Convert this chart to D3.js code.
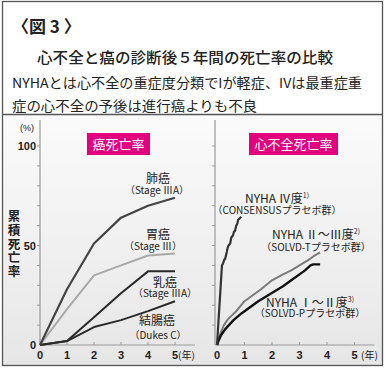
<!DOCTYPE html>
<meta charset="utf-8">
<script src="https://d3js.org/d3.v7.min.js"></script>
<style>
  body { margin: 0; background: #fff; }
  text { font-family: "Liberation Sans", "Noto Sans CJK JP", sans-serif; fill: #222; }
  .jp { font-family: "Noto Sans CJK JP", sans-serif; }
</style>
<div id="chart"></div>
<script>

// cancer: cumulative mortality (%) by year after diagnosis
const cancerYears = [0, 1, 2, 3, 4, 5];
const lungCancer = [0, 28, 51, 64, 70, 74];
const stomachCancer = [0, 18, 35, 40, 45, 46];
const breastCancer = [0, 2, 14, 26, 37, 37];
const colonCancer = [0, 2, 9, 12.5, 17, 22];

// heart failure (placebo groups)
const nyha4Years = [0, 0.18, 0.22, 0.27, 0.3, 0.36, 0.38, 0.42, 0.48, 0.52, 0.58, 0.62, 0.66, 0.7, 0.74, 0.77, 0.82, 0.88];
const nyha4 = [0, 40, 41, 43, 43.5, 47, 48.5, 50, 51, 54, 55, 57, 57.5, 60, 61, 63, 63.5, 64.5];
const nyha23Years = [0, 0.1, 0.25, 0.4, 0.7, 1.0, 1.3, 1.6, 2.0, 2.4, 2.7, 3.0, 3.3, 3.5, 3.75];
const nyha23 = [0, 5, 10, 13, 17, 22, 25, 28, 32.5, 35.5, 37.5, 40, 42.5, 44.5, 46.5];
const nyha12Years = [0, 0.05, 0.15, 0.3, 0.6, 0.9, 1.2, 1.5, 1.8, 2.1, 2.4, 2.7, 3.0, 3.2, 3.4, 3.5, 3.75];
const nyha12 = [0, 2, 5, 8, 12.5, 16, 19, 22, 24.5, 27, 29.5, 32.5, 35.5, 37.5, 40, 40.5, 40.5];

const xTicks = [0, 1, 2, 3, 4, 5];
const yTickLabels = [0, 50, 100];

const W = 385, H = 369;
const svg = d3.select("#chart").append("svg")
    .attr("width", W).attr("height", H);

var defs = svg.append("defs");
var grad = defs.append("linearGradient").attr("id", "bg")
    .attr("x1", 0).attr("y1", 0).attr("x2", 0).attr("y2", 1);
grad.append("stop").attr("offset", "0%").attr("stop-color", "#fbfbfb");
grad.append("stop").attr("offset", "100%").attr("stop-color", "#e6e6e6");

// chart panel background + frame
svg.append("rect").attr("x", 3).attr("y", 114).attr("width", 379).attr("height", 251)
    .attr("fill", "url(#bg)");
svg.append("rect").attr("x", 2.5).attr("y", 1.5).attr("width", 380).attr("height", 364)
    .attr("fill", "none").attr("stroke", "#555").attr("stroke-width", 1.3);
svg.append("line").attr("x1", 3).attr("x2", 382).attr("y1", 114.5).attr("y2", 114.5)
    .attr("stroke", "#555").attr("stroke-width", 1.3);

// titles
svg.append("text").attr("class", "jp").attr("x", 12).attr("y", 33)
    .attr("font-size", 17).attr("font-weight", "bold").text("〈図 3 〉");
svg.append("text").attr("class", "jp").attr("x", 37).attr("y", 63)
    .attr("font-size", 15).attr("font-weight", 500)
    .attr("textLength", 296).attr("lengthAdjust", "spacingAndGlyphs")
    .text("心不全と癌の診断後５年間の死亡率の比較");
svg.append("text").attr("class", "jp").attr("x", 12).attr("y", 88)
    .attr("font-size", 13.5)
    .attr("textLength", 350).attr("lengthAdjust", "spacingAndGlyphs")
    .text("NYHAとは心不全の重症度分類でIが軽症、IVは最重症重");
svg.append("text").attr("class", "jp").attr("x", 12).attr("y", 111)
    .attr("font-size", 13.5)
    .attr("textLength", 245).attr("lengthAdjust", "spacingAndGlyphs")
    .text("症の心不全の予後は進行癌よりも不良");

// scales
var y = d3.scaleLinear().domain([0, 100]).range([345, 146]);
var xL = d3.scaleLinear().domain([0, 5]).range([40, 175]);
var xR = d3.scaleLinear().domain([0, 5]).range([217, 354.5]);

function drawAxes(x, x0) {
  var g = svg.append("g");
  g.append("line").attr("x1", x0).attr("x2", x0).attr("y1", 120).attr("y2", 345)
      .attr("stroke", "#999").attr("stroke-width", 1.2);
  g.append("line").attr("x1", x0).attr("x2", x(5) + 20).attr("y1", 345).attr("y2", 345)
      .attr("stroke", "#999").attr("stroke-width", 1.2);
  g.selectAll(".yt").data(d3.range(10, 101, 10)).enter().append("line")
      .attr("x1", x0 - 3).attr("x2", x0).attr("y1", d => y(d)).attr("y2", d => y(d))
      .attr("stroke", "#999");
  g.selectAll(".xt").data(xTicks.slice(1)).enter().append("line")
      .attr("x1", d => x(d)).attr("x2", d => x(d)).attr("y1", 345).attr("y2", 342)
      .attr("stroke", "#999");
  g.selectAll(".xl").data(xTicks).enter().append("text")
      .attr("x", d => x(d)).attr("y", 359).attr("text-anchor", "middle")
      .attr("font-size", 11).attr("font-weight", "bold").attr("fill", "#333")
      .text(d => d);
}
drawAxes(xL, 40);
drawAxes(xR, 215);

svg.append("text").attr("class", "jp").attr("x", 178).attr("y", 359)
    .attr("font-size", 10).attr("fill", "#333").text("(年)");
svg.append("text").attr("class", "jp").attr("x", 361).attr("y", 359)
    .attr("font-size", 10).attr("fill", "#333").text("(年)");

// y labels
svg.selectAll(".yl").data(yTickLabels).enter().append("text")
    .attr("x", 36).attr("y", d => y(d) + 4).attr("text-anchor", "end")
    .attr("font-size", 11).attr("font-weight", "bold").attr("fill", "#333")
    .text(d => d);
svg.append("text").attr("x", 27).attr("y", 131).attr("text-anchor", "middle")
    .attr("font-size", 9).attr("fill", "#555").text("(%)");
var yTitle = "累積死亡率".split("");
svg.selectAll(".ytitle").data(yTitle).enter().append("text").attr("class", "jp")
    .attr("x", 14).attr("y", (d, i) => 221 + i * 13.8).attr("text-anchor", "middle")
    .attr("font-size", 12.5).attr("font-weight", "bold").text(d => d);

// pink headers
function header(x, w, label) {
  svg.append("rect").attr("x", x).attr("y", 133).attr("width", w).attr("height", 22)
      .attr("fill", "#e2007e");
  svg.append("text").attr("class", "jp").attr("x", x + w / 2).attr("y", 149)
      .attr("text-anchor", "middle").attr("font-size", 13).attr("fill", "#fff")
      .style("fill", "#fff").text(label);
}
header(87, 63, "癌死亡率");
header(249, 89, "心不全死亡率");

// lines
function drawLine(x, years, vals, color, width) {
  var pts = years.map((d, i) => [d, vals[i]]);
  svg.append("path").datum(pts)
      .attr("fill", "none").attr("stroke", color).attr("stroke-width", width)
      .attr("stroke-linejoin", "round")
      .attr("d", d3.line().x(d => x(d[0])).y(d => y(d[1])));
}
drawLine(xL, cancerYears, stomachCancer, "#a9a9a9", 2);
drawLine(xL, cancerYears, colonCancer, "#2a2a2a", 2);
drawLine(xL, cancerYears, breastCancer, "#2a2a2a", 2);
drawLine(xL, cancerYears, lungCancer, "#444", 2.2);

drawLine(xR, nyha23Years, nyha23, "#7a7a7a", 2);
drawLine(xR, nyha12Years, nyha12, "#111", 2.4);
drawLine(xR, nyha4Years, nyha4, "#333", 2.2);

// annotations
function label(x, yy, t, size) {
  return svg.append("text").attr("class", "jp").attr("x", x).attr("y", yy)
      .attr("text-anchor", "middle").attr("font-size", size).attr("fill", "#333").text(t);
}
label(158, 183, "肺癌", 12);
label(157, 194, "（Stage ⅢA）", 10);
label(158, 239, "胃癌", 12);
label(153, 250, "（Stage Ⅲ）", 10);
label(165, 287, "乳癌", 12);
label(165, 297, "（Stage ⅢA）", 10);
label(157, 325, "結腸癌", 12);
label(158, 339, "（Dukes C）", 10);

function nyha(x, yy, main, sup) {
  var t = label(x, yy, main, 12);
  t.append("tspan").attr("font-size", 7).attr("dy", -5).text(sup);
}
nyha(277, 203, "NYHA Ⅳ度", "1)");
label(277, 214, "（CONSENSUSプラセボ群）", 10);
nyha(316, 239, "NYHA Ⅱ〜Ⅲ度", "2)");
label(316, 251, "（SOLVD-Tプラセボ群）", 10);
nyha(310, 307, "NYHA Ⅰ〜Ⅱ度", "3)");
label(310, 317, "（SOLVD-Pプラセボ群）", 10);

</script>
